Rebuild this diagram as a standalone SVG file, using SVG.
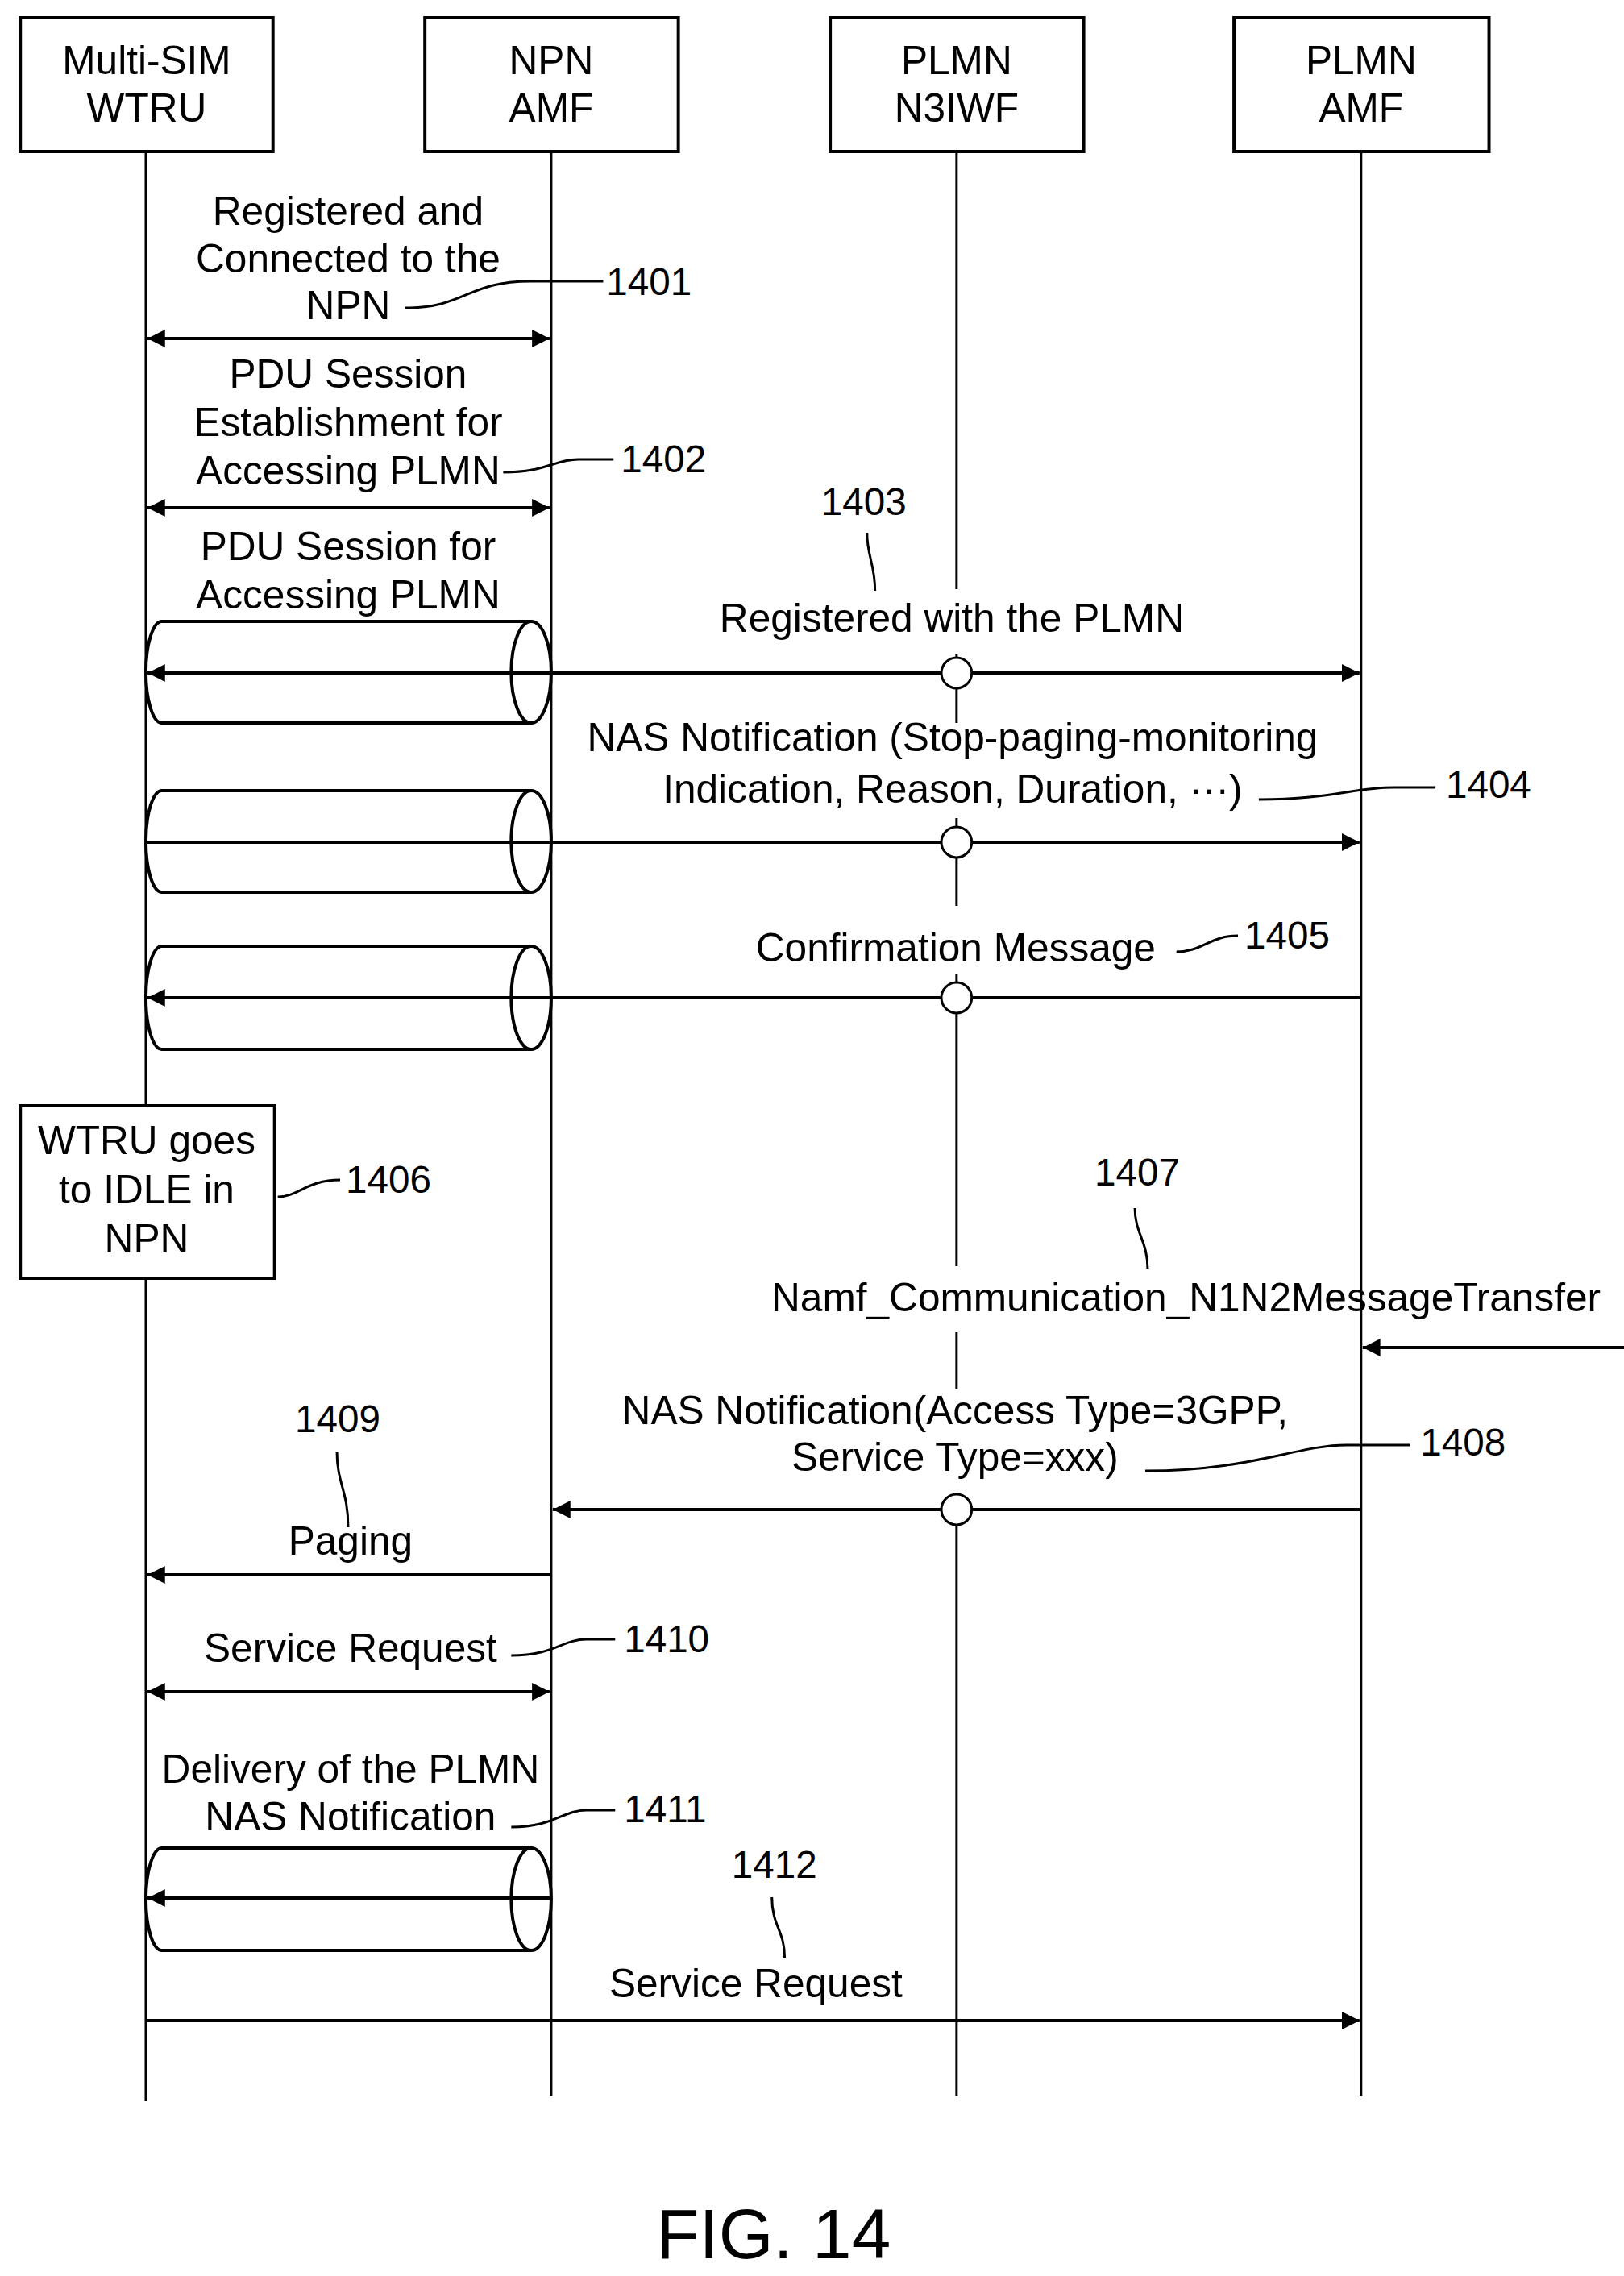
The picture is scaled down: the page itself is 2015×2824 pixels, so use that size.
<svg xmlns="http://www.w3.org/2000/svg" width="2015" height="2824" viewBox="0 0 2015 2824">
<defs>
<style>
text{font-family:"Liberation Sans",Arial,sans-serif;font-size:50px;fill:#000;text-anchor:middle}
.n{font-size:48px;text-anchor:start}
.box{fill:#fff;stroke:#000;stroke-width:4}
.ll{stroke:#000;stroke-width:3;fill:none}
.msg{stroke:#000;stroke-width:4;fill:none}
.ld{stroke:#000;stroke-width:3;fill:none}
.cyl{fill:none;stroke:#000;stroke-width:4}
.gap{fill:#fff;stroke:none}
.c{fill:#fff;stroke:#000;stroke-width:3}
</style>
<marker id="a" viewBox="-22 -11 22 22" refX="0" refY="0" markerWidth="22" markerHeight="22" markerUnits="userSpaceOnUse" orient="auto"><path d="M0,0 L-22,-11 L-22,11 Z" fill="#000"/></marker>
<marker id="as" viewBox="0 -11 22 22" refX="0" refY="0" markerWidth="22" markerHeight="22" markerUnits="userSpaceOnUse" orient="auto"><path d="M0,0 L22,-11 L22,11 Z" fill="#000"/></marker>
</defs>
<rect width="2015" height="2824" fill="#fff"/>
<g transform="translate(3.4 0) scale(0.992 1)">
<g id="lifelines">
<line class="ll" x1="179" y1="188" x2="179" y2="2607"/>
<line class="ll" x1="686" y1="188" x2="686" y2="2601"/>
<line class="ll" x1="1193" y1="188" x2="1193" y2="2601"/>
<line class="ll" x1="1699" y1="188" x2="1699" y2="2601"/>
<rect class="gap" x="1180" y="731" width="26" height="80"/>
<rect class="gap" x="1180" y="897" width="26" height="118"/>
<rect class="gap" x="1180" y="1124" width="26" height="84"/>
<rect class="gap" x="1180" y="1571" width="26" height="82"/>
<rect class="gap" x="1180" y="1724" width="26" height="130"/>
</g>
<g id="n1"><rect class="box" x="22" y="22" width="316" height="166"/><text x="180" y="92">Multi-SIM</text><text x="180" y="151">WTRU</text></g>
<g id="n2"><rect class="box" x="528" y="22" width="317" height="166"/><text x="686" y="92">NPN</text><text x="686" y="151">AMF</text></g>
<g id="n3"><rect class="box" x="1035" y="22" width="317" height="166"/><text x="1193" y="92">PLMN</text><text x="1193" y="151">N3IWF</text></g>
<g id="n4"><rect class="box" x="1540" y="22" width="319" height="166"/><text x="1699" y="92">PLMN</text><text x="1699" y="151">AMF</text></g>
<g id="n1406"><rect class="box" x="22" y="1372" width="318" height="214"/><text x="180" y="1432">WTRU goes</text><text x="180" y="1493">to IDLE in</text><text x="180" y="1554">NPN</text></g>
<g id="cylinders">
<path class="cyl" d="M199,771 H661 A25 63 0 0 1 661,897 H199 A20 63 0 0 1 199,771 Z M661,771 A25 63 0 0 0 661,897"/>
<path class="cyl" d="M199,981 H661 A25 63 0 0 1 661,1107 H199 A20 63 0 0 1 199,981 Z M661,981 A25 63 0 0 0 661,1107"/>
<path class="cyl" d="M199,1174 H661 A25 64 0 0 1 661,1302 H199 A20 64 0 0 1 199,1174 Z M661,1174 A25 64 0 0 0 661,1302"/>
<path class="cyl" d="M199,2293 H661 A25 63.5 0 0 1 661,2420 H199 A20 63.5 0 0 1 199,2293 Z M661,2293 A25 63.5 0 0 0 661,2420"/>
</g>
<g id="connectors">
<line class="msg" x1="181" y1="420" x2="684" y2="420" marker-start="url(#as)" marker-end="url(#a)"/>
<line class="msg" x1="181" y1="630" x2="684" y2="630" marker-start="url(#as)" marker-end="url(#a)"/>
<line class="msg" x1="181" y1="835" x2="1697" y2="835" marker-start="url(#as)" marker-end="url(#a)"/>
<line class="msg" x1="179" y1="1045" x2="1697" y2="1045" marker-end="url(#a)"/>
<line class="msg" x1="1699" y1="1238" x2="181" y2="1238" marker-end="url(#a)"/>
<line class="msg" x1="2040" y1="1672" x2="1701" y2="1672" marker-end="url(#a)"/>
<line class="msg" x1="1699" y1="1873" x2="688" y2="1873" marker-end="url(#a)"/>
<line class="msg" x1="686" y1="1954" x2="181" y2="1954" marker-end="url(#a)"/>
<line class="msg" x1="181" y1="2099" x2="684" y2="2099" marker-start="url(#as)" marker-end="url(#a)"/>
<line class="msg" x1="686" y1="2355" x2="181" y2="2355" marker-end="url(#a)"/>
<line class="msg" x1="179" y1="2507" x2="1697" y2="2507" marker-end="url(#a)"/>
<circle class="c" cx="1193" cy="835" r="19"/>
<circle class="c" cx="1193" cy="1045" r="19"/>
<circle class="c" cx="1193" cy="1238" r="19"/>
<circle class="c" cx="1193" cy="1873" r="19"/>
<path class="ld" d="M503,382 C580,382 580,349 660,349 L751,349"/>
<path class="ld" d="M626,586 C680,586 690,570 720,570 L764,570"/>
<path class="ld" d="M1081,661 C1081,690 1091,700 1091,733"/>
<path class="ld" d="M1571,992 C1660,992 1690,977 1740,977 L1792,977"/>
<path class="ld" d="M1468,1181 C1500,1181 1510,1161 1545,1161"/>
<path class="ld" d="M344,1485 C370,1485 380,1464 422,1464"/>
<path class="ld" d="M1416,1499 C1416,1530 1432,1540 1432,1574"/>
<path class="ld" d="M1429,1825 C1560,1825 1620,1793 1680,1793 L1760,1793"/>
<path class="ld" d="M418,1802 C418,1840 432,1850 432,1895"/>
<path class="ld" d="M636,2054 C690,2054 700,2034 730,2034 L766,2034"/>
<path class="ld" d="M636,2267 C690,2267 700,2246 730,2246 L766,2246"/>
<path class="ld" d="M962,2354 C962,2390 978,2395 978,2429"/>
</g>
<g id="labels">
<text x="432" y="279">Registered and</text>
<text x="432" y="338">Connected to the</text>
<text x="432" y="396">NPN</text>
<text class="n" x="755" y="366">1401</text>
<text x="432" y="481">PDU Session</text>
<text x="432" y="541">Establishment for</text>
<text x="432" y="601">Accessing PLMN</text>
<text class="n" x="773" y="586">1402</text>
<text x="1077" y="639" style="font-size:48px">1403</text>
<text x="432" y="695">PDU Session for</text>
<text x="432" y="755">Accessing PLMN</text>
<text x="1187" y="784">Registered with the PLMN</text>
<text x="1188" y="932">NAS Notification (Stop-paging-monitoring</text>
<text x="1188" y="996">Indication, Reason, Duration, ···)</text>
<text class="n" x="1805" y="990">1404</text>
<text x="1192" y="1193">Confirmation Message</text>
<text class="n" x="1553" y="1177">1405</text>
<text class="n" x="429" y="1480">1406</text>
<text x="1419" y="1471" style="font-size:48px">1407</text>
<text x="1480" y="1627">Namf_Communication_N1N2MessageTransfer</text>
<text x="1191" y="1767">NAS Notification(Access Type=3GPP,</text>
<text x="1191" y="1825">Service Type=xxx)</text>
<text class="n" x="1773" y="1806">1408</text>
<text x="419" y="1777" style="font-size:48px">1409</text>
<text x="435" y="1929">Paging</text>
<text x="435" y="2062">Service Request</text>
<text class="n" x="777" y="2050">1410</text>
<text x="435" y="2212">Delivery of the PLMN</text>
<text x="435" y="2271">NAS Notification</text>
<text class="n" x="777" y="2261">1411</text>
<text x="965" y="2330" style="font-size:48px">1412</text>
<text x="942" y="2478">Service Request</text>
<text x="964" y="2802" style="font-size:88px">FIG. 14</text>
</g>
</g>
</svg>
